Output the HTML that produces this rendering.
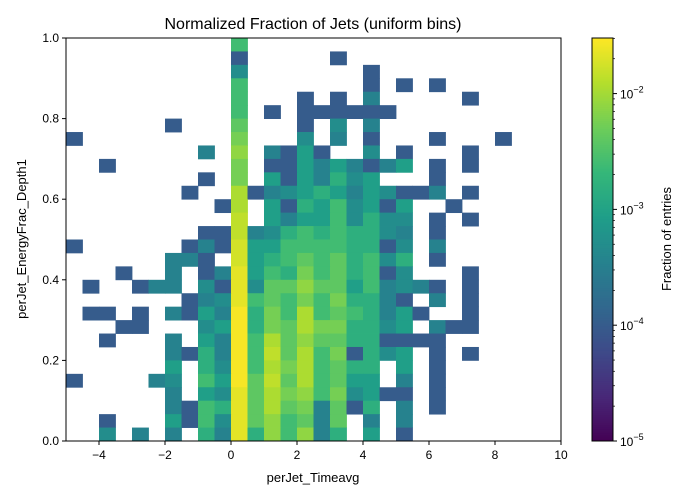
<!DOCTYPE html>
<html><head><meta charset="utf-8">
<style>
body{margin:0;background:#fff;}
svg{display:block;font-family:"Liberation Sans","DejaVu Sans",sans-serif;}
</style></head>
<body>
<svg id="chart" width="700" height="500" viewBox="0 0 700 500">
<text x="313" y="29" text-anchor="middle" font-size="16">Normalized Fraction of Jets (uniform bins)</text>
<text x="313" y="482" text-anchor="middle" font-size="13">perJet_Timeavg</text>
<text x="26" y="239" text-anchor="middle" font-size="13" transform="rotate(-90 26 239)">perJet_EnergyFrac_Depth1</text>
<text x="671" y="239" text-anchor="middle" font-size="13" transform="rotate(-90 671 239)">Fraction of entries</text>
<g id="cells"></g>
<g id="cbar"></g>
<g id="axes"></g>
</svg>
<script>
// ---- data ----
const xEdgesMin = -5, xEdgesMax = 10, nXBins = 30;
const yEdgesMin = 0, yEdgesMax = 1, nYBins = 30;
// rows from top (y high) to bottom (y low); chars are level codes, '.' = empty
const binRows = [
".......... 5......... ..........",
".......... 0.....0... ..........",
".......... 2.......0. ..........",
".......... 5.......0. 0.0.......",
".......... 5...0.0.1. ....0.....",
".......... 5.0.000000 ..........",
"......0... 6...0.2.1. ..........",
"0......... 7...2.1.0. ..0...0...",
"........1. 8.1030..2. 0...0.....",
"..0....... 7.00313101 3.0.0.....",
"........0. 7.3031423. ..0.......",
".......0.. 9012343132 001.0.....",
".........0 9.30435230 3..0......",
".......... A.31335242 2.0.0.....",
"........00 A124545442 1.0.......",
"0......010 B335555440 2.1.......",
"......110. B345656452 4.0.......",
"...0..1.01 C354756450 2...0.....",
".0..011.20 C266866351 210.0.....",
".......012 C565757441 0.1.0.....",
".00.0.1031 D475956541 30..0.....",
"...00...23 D476977442 3.100.....",
"..0...1.31 D596866440 000.......",
"......1041 D5A6957042 3.0.0.....",
"......3.42 D59795644. 3.0.......",
"0....12.53 D6A695633. 1.0.......",
"......1.32 C697857230 0.0.......",
"......1054 C69671604. 1.0.......",
"..0...3052 C685616.1. 1.........",
"..2.1.1.41 C485814.3. 0........."
];
const levelCodes = ["0","1","2","3","4","5","6","7","8","9","A","B","C","D"];
const levelLog10 = [-4.0,-3.45,-3.3,-3.05,-2.8,-2.6,-2.4,-2.25,-2.1,-1.95,-1.85,-1.75,-1.65,-1.55];
const xTicks = [-4,-2,0,2,4,6,8,10];
const yTicks = [0,0.2,0.4,0.6,0.8,1.0];
const yTickLabels = ["0.0","0.2","0.4","0.6","0.8","1.0"];
const cbarDecades = [-5,-4,-3,-2];
const cLogMin = -5, cLogMax = -1.52;

// ---- layout ----
const PX0=66, PX1=561, PY0=38, PY1=441;
const CB0=592, CB1=613;
const NS="http://www.w3.org/2000/svg";
const xs = v => PX0 + (v - xEdgesMin)/(xEdgesMax - xEdgesMin)*(PX1-PX0);
const ys = v => PY1 - (v - yEdgesMin)/(yEdgesMax - yEdgesMin)*(PY1-PY0);
const cs = l => PY1 - (l - cLogMin)/(cLogMax - cLogMin)*(PY1-PY0);
const VIR=[[68,1,84],[72,40,120],[62,74,137],[49,104,142],[38,130,142],[31,158,137],[53,183,121],[109,205,89],[180,222,44],[253,231,37]];
function viridis(t){t=Math.max(0,Math.min(1,t));const p=t*(VIR.length-1),i=Math.min(Math.floor(p),VIR.length-2),f=p-i;
 const c=VIR[i].map((a,k)=>Math.round(a+(VIR[i+1][k]-a)*f));return `rgb(${c[0]},${c[1]},${c[2]})`;}
const colorOf = l => viridis((l - cLogMin)/(cLogMax - cLogMin));
function mk(tag,attrs,parent){const e=document.createElementNS(NS,tag);for(const k in attrs)e.setAttribute(k,attrs[k]);parent.appendChild(e);return e;}

// ---- cells ----
const cells=document.getElementById('cells');
const dx=(xEdgesMax-xEdgesMin)/nXBins, dy=(yEdgesMax-yEdgesMin)/nYBins;
binRows.forEach((row,ri)=>{
  const s=row.replace(/ /g,'');
  const yi=nYBins-1-ri;
  for(let ci=0;ci<s.length;ci++){
    const k=levelCodes.indexOf(s[ci]); if(k<0) continue;
    const x0=xEdgesMin+ci*dx, y0=yEdgesMin+yi*dy;
    const r=mk('rect',{x:xs(x0),y:ys(y0+dy),width:xs(x0+dx)-xs(x0)+0.4,height:ys(y0)-ys(y0+dy)+0.4,fill:colorOf(levelLog10[k])},cells);
    
    
  }
});

// ---- axes ----
const ax=document.getElementById('axes');
const frame=mk('rect',{x:PX0,y:PY0,width:PX1-PX0,height:PY1-PY0,fill:'none',stroke:'#000','stroke-width':1},ax);


xTicks.forEach(v=>{
  const x=xs(v);
  mk('line',{x1:x,x2:x,y1:PY1,y2:PY1+4,stroke:'#000'},ax);
  const t=mk('text',{x:x,y:PY1+18,'text-anchor':'middle','font-size':12},ax);
  t.textContent=(v<0?'\u2212'+(-v):String(v));
  
  
});
yTicks.forEach((v,i)=>{
  const y=ys(v);
  mk('line',{x1:PX0-4,x2:PX0,y1:y,y2:y,stroke:'#000'},ax);
  const t=mk('text',{x:PX0-7,y:y+4,'text-anchor':'end','font-size':12},ax);
  t.textContent=yTickLabels[i];
  
  
});

// ---- colorbar ----
const cb=document.getElementById('cbar');
for(let i=0;i<200;i++){
  const l0=cLogMin+(cLogMax-cLogMin)*i/200, l1=cLogMin+(cLogMax-cLogMin)*(i+1)/200;
  mk('rect',{x:CB0,y:cs(l1),width:CB1-CB0,height:cs(l0)-cs(l1)+0.5,fill:colorOf((l0+l1)/2)},cb);
}
mk('rect',{x:CB0,y:PY0,width:CB1-CB0,height:PY1-PY0,fill:'none',stroke:'#000'},cb);
cbarDecades.forEach(d=>{
  const y=cs(d);
  mk('line',{x1:CB1,x2:CB1+4,y1:y,y2:y,stroke:'#000'},cb);
  const t=mk('text',{x:CB1+7,y:y+5,'font-size':12},cb);
  
  
  t.appendChild(document.createTextNode('10'));
  const s=mk('tspan',{dy:-6,'font-size':9},t); s.textContent='\u2212'+(-d);
  for(let m=2;m<10;m++){const lm=d+Math.log10(m); if(lm>cLogMax) break;
    const ym=cs(lm); mk('line',{x1:CB1,x2:CB1+2,y1:ym,y2:ym,stroke:'#000','stroke-width':0.7},cb);}
});
</script>
</body></html>
